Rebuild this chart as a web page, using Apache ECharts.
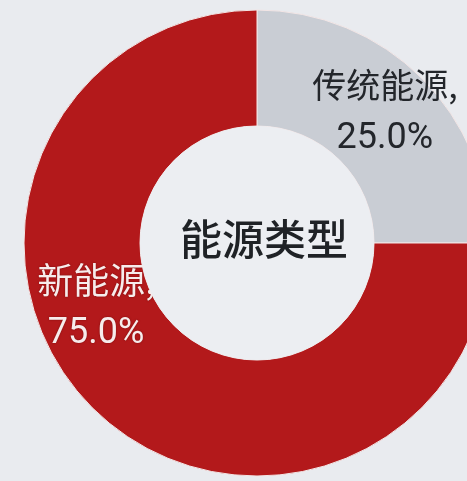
<!DOCTYPE html>
<html>
<head>
<meta charset="utf-8">
<script src="https://cdn.jsdelivr.net/npm/echarts@6/dist/echarts.min.js"></script>
<style>
html,body{margin:0;padding:0;background:#e9ebef;}
#c{width:467px;height:481px;}
</style>
</head>
<body>
<div id="c"></div>
<script>
const categories = ['传统能源', '新能源'];
const values = [25, 75];
const centerTitle = '能源类型';
const sliceColors = ['#c9cdd4', '#b3191b'];
const labelColors = ['#23262b', '#f7ecec'];
const nameSizes = [34, 36];

const chart = echarts.init(document.getElementById('c'));
chart.setOption({
  backgroundColor: '#e9ebef',
  animation: false,
  series: [
    {
      type: 'pie',
      z: 2,
      center: [257, 243],
      radius: [117, 233],
      startAngle: 90,
      clockwise: true,
      silent: true,
      itemStyle: { borderColor: '#f3e6e6', borderWidth: 1 },
      label: {
        show: true,
        position: 'inside',
        align: 'center',
        formatter: p => '{a|' + p.name + ',}\n{b|' + p.percent.toFixed(1) + '%}',
        rich: {
          a: { fontFamily: 'Noto Sans CJK SC', fontSize: 34, lineHeight: 50 },
          b: { fontFamily: 'Roboto', fontSize: 36, lineHeight: 58 }
        }
      },
      labelLayout: p => p.dataIndex === 0 ? { dx: 2, dy: -3 } : { dx: -35, dy: -60 },
      data: categories.map((n, i) => ({
        name: n,
        value: values[i],
        itemStyle: { color: sliceColors[i] },
        label: {
          color: labelColors[i],
          textShadowColor: i === 1 ? 'rgba(80,0,0,0.6)' : 'transparent',
          textShadowBlur: i === 1 ? 2 : 0,
          rich: {
            a: { color: labelColors[i], fontSize: nameSizes[i] },
            b: { color: labelColors[i] }
          }
        }
      }))
    },
    {
      type: 'pie',
      z: 5,
      center: [257, 243],
      radius: [0, 117],
      silent: true,
      itemStyle: { color: '#eceef2' },
      label: {
        show: true,
        position: 'center',
        fontFamily: 'Noto Sans CJK SC',
        fontSize: 42,
        fontWeight: 500,
        color: '#1f2226',
        formatter: '{b}'
      },
      labelLayout: { dx: 7, dy: -4 },
      data: [{ name: centerTitle, value: 1 }]
    }
  ]
});
</script>
</body>
</html>
